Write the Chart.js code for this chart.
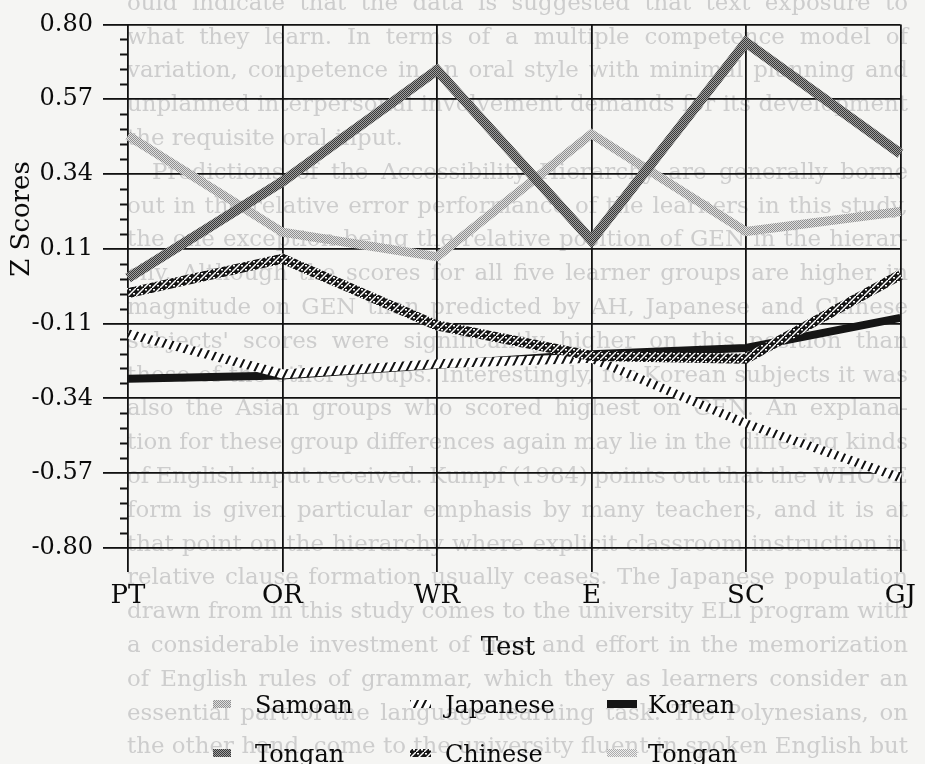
<!DOCTYPE html>
<html>
<head>
<meta charset="utf-8">
<script src="https://cdn.jsdelivr.net/npm/chart.js@4.4.0/dist/chart.umd.min.js"></script>
<style>
  html, body { margin: 0; padding: 0; background: #f5f5f3; }
  #wrap { width: 925px; height: 764px; }
</style>
</head>
<body>
<div id="wrap"><canvas id="zscores" width="925" height="764"></canvas></div>
<script>
// DATA
const tests = ["PT", "OR", "WR", "E", "SC", "GJ"];
const samoan = [0.46, 0.165, 0.09, 0.465, 0.167, 0.228];
const tongan = [0.025, 0.32, 0.66, 0.14, 0.745, 0.405];
const chinese = [-0.021, 0.084, -0.12, -0.213, -0.222, 0.035];
const japanese = [-0.146, -0.268, -0.237, -0.22, -0.42, -0.585];
const korean = [-0.283, -0.273, -0.24, -0.208, -0.189, -0.097];
const yTickLabels = ["0.80", "0.57", "0.34", "0.11", "-0.11", "-0.34", "-0.57", "-0.80"];
const legendLabels = ["Samoan", "Japanese", "Korean", "Tongan", "Chinese", "Tongan"];

// page text showing through behind the figure
const pageLines = [
  { t: "ould indicate that the data is suggested that text exposure to" },
  { t: "what they learn. In terms of a multiple competence model of" },
  { t: "variation, competence in an oral style with minimal planning and" },
  { t: "unplanned interpersonal involvement demands for its development" },
  { t: "the requisite oral input.", last: true },
  { t: "Predictions of the Accessibility Hierarchy are generally borne", indent: true },
  { t: "out in the relative error performance of the learners in this study," },
  { t: "the one exception being the relative position of GEN in the hierar-" },
  { t: "chy. Although the scores for all five learner groups are higher in" },
  { t: "magnitude on GEN than predicted by AH, Japanese and Chinese" },
  { t: "subjects' scores were significantly higher on this position than" },
  { t: "those of the other groups. Interestingly, for Korean subjects it was" },
  { t: "also the Asian groups who scored highest on GEN. An explana-" },
  { t: "tion for these group differences again may lie in the differing kinds" },
  { t: "of English input received. Kumpf (1984) points out that the WHOSE" },
  { t: "form is given particular emphasis by many teachers, and it is at" },
  { t: "that point on the hierarchy where explicit classroom instruction in" },
  { t: "relative clause formation usually ceases. The Japanese population" },
  { t: "drawn from in this study comes to the university ELI program with" },
  { t: "a considerable investment of time and effort in the memorization" },
  { t: "of English rules of grammar, which they as learners consider an" },
  { t: "essential part of the language learning task. The Polynesians, on" },
  { t: "the other hand, come to the university fluent in spoken English but" },
];

Chart.defaults.font.family = "'DejaVu Serif', serif";
Chart.defaults.color = "#0a0a0a";

const canvas = document.getElementById("zscores");
const ctx = canvas.getContext("2d");

function makePattern(w, h, paint) {
  const tile = document.createElement("canvas");
  tile.width = w;
  tile.height = h;
  paint(tile.getContext("2d"), w, h);
  return ctx.createPattern(tile, "repeat");
}

function checker(dark, light) {
  return makePattern(2, 2, (g) => {
    g.fillStyle = light;
    g.fillRect(0, 0, 2, 2);
    g.fillStyle = dark;
    g.fillRect(0, 0, 1, 1);
    g.fillRect(1, 1, 1, 1);
  });
}

const tonganPat = checker("#383838", "#a0a0a0");
const samoanPat = checker("#909090", "#dedede");
const tongan2Pat = checker("#acacac", "#eeeeee");

const japanesePat = makePattern(8, 16, (g, w, h) => {
  g.fillStyle = "#fff";
  g.fillRect(0, 0, w, h);
  g.strokeStyle = "#111";
  g.lineWidth = 2.1;
  g.beginPath();
  g.moveTo(-2, h + 4); g.lineTo(w + 2, -4);
  g.moveTo(-2 - w, h + 4); g.lineTo(2, -4);
  g.moveTo(w - 2, h + 4); g.lineTo(2 * w + 2, -4);
  g.stroke();
});

const chinesePat = makePattern(8, 8, (g, w, h) => {
  g.fillStyle = "#151515";
  g.fillRect(0, 0, w, h);
  g.strokeStyle = "#fff";
  g.lineWidth = 1.4;
  g.beginPath();
  g.moveTo(0, h); g.lineTo(w, 0);
  g.stroke();
  g.fillStyle = "#fff";
  g.fillRect(1, 1, 2, 1.5);
  g.fillRect(5, 5, 2, 1.5);
});

const legendStyles = [samoanPat, japanesePat, "#151515", tonganPat, chinesePat, tongan2Pat];

const extras = {
  id: "extras",
  beforeDraw(chart) {
    const c = chart.ctx;
    c.save();
    c.fillStyle = "#f5f5f3";
    c.fillRect(0, 0, chart.width, chart.height);
    c.font = "22px 'DejaVu Serif'";
    c.fillStyle = "#cdcdcd";
    c.textBaseline = "middle";
    const left = 127, right = 908;
    const sx = 1.04;
    pageLines.forEach((ln, i) => {
      const y = 4 + i * 33.8;
      const x0 = ln.indent ? 152 : left;
      c.save();
      c.translate(x0, y);
      c.scale(sx, 1);
      if (ln.last) {
        c.fillText(ln.t, 0, 0);
        c.restore();
        return;
      }
      const words = ln.t.split(" ");
      const widths = words.map((w) => c.measureText(w).width);
      const sum = widths.reduce((a, b) => a + b, 0);
      let gap = ((right - x0) / sx - sum) / (words.length - 1);
      if (gap < 5) {
        c.scale(((right - x0) / sx) / (sum + 5 * (words.length - 1)), 1);
        gap = 5;
      }
      let x = 0;
      words.forEach((w, k) => {
        c.fillText(w, x, 0);
        x += widths[k] + gap;
      });
      c.restore();
    });
    c.restore();
  },
  afterDraw(chart) {
    const c = chart.ctx;
    const ys = chart.scales.y;
    const area = chart.chartArea;
    c.save();
    // minor ticks on the y axis
    c.strokeStyle = "#111";
    c.lineWidth = 1.8;
    c.beginPath();
    for (let i = 0; i < ys.ticks.length - 1; i++) {
      const a = ys.ticks[i].value, b = ys.ticks[i + 1].value;
      for (let j = 1; j < 5; j++) {
        const y = Math.round(ys.getPixelForValue(a + (b - a) * j / 5)) + 0.5;
        c.moveTo(area.left - 8, y);
        c.lineTo(area.left, y);
      }
    }
    c.stroke();

    // axis titles
    c.fillStyle = "#0a0a0a";
    c.font = "26px 'DejaVu Serif'";
    c.textAlign = "center";
    c.textBaseline = "middle";
    c.fillText("Test", 508, 648);
    c.translate(22, 219);
    c.rotate(-Math.PI / 2);
    c.fillText("Z Scores", 0, 0);
    c.restore();

    // legend
    c.save();
    const symX = [213, 410, 607], symW = [18, 21, 30], textX = [255, 445, 648];
    const baseY = [713, 762];
    c.font = "24px 'DejaVu Serif'";
    c.textBaseline = "alphabetic";
    legendLabels.forEach((name, i) => {
      const row = Math.floor(i / 3), col = i % 3;
      c.fillStyle = legendStyles[i];
      c.fillRect(symX[col], baseY[row] - 13, symW[col], 8);
      c.fillStyle = "#0a0a0a";
      c.fillText(name, textX[col], baseY[row]);
    });
    c.restore();
  },
};

new Chart(ctx, {
  type: "line",
  data: {
    labels: tests,
    datasets: [
      { label: "Tongan", data: tongan, borderColor: tonganPat, borderWidth: 10 },
      { label: "Samoan", data: samoan, borderColor: samoanPat, borderWidth: 9 },
      { label: "Chinese", data: chinese, borderColor: chinesePat, borderWidth: 10 },
      { label: "Japanese", data: japanese, borderColor: japanesePat, borderWidth: 9 },
      { label: "Korean", data: korean, borderColor: "#151515", borderWidth: 8 },
    ],
  },
  options: {
    responsive: false,
    animation: false,
    layout: { padding: { top: 22, right: 19, left: 0, bottom: 0 } },
    plugins: { legend: { display: false }, tooltip: { enabled: false } },
    elements: {
      point: { radius: 0 },
      line: { tension: 0, borderJoinStyle: "miter", borderCapStyle: "butt", fill: false },
    },
    scales: {
      x: {
        offset: false,
        grid: { color: "#111", lineWidth: 1.8, tickLength: 24 },
        border: { display: false },
        ticks: { font: { size: 26 }, padding: 9, maxRotation: 0, autoSkip: false },
        afterFit: (s) => { s.height = 216; },
      },
      y: {
        min: -0.8,
        max: 0.8,
        afterBuildTicks: (s) => {
          const n = yTickLabels.length;
          s.ticks = yTickLabels.map((_, i) => ({ value: s.max - i * (s.max - s.min) / (n - 1) }));
        },
        grid: { color: "#111", lineWidth: 1.8, tickLength: 25 },
        border: { display: false },
        ticks: { font: { size: 24 }, padding: 10, callback: (v, i) => yTickLabels[i] },
        afterFit: (s) => { s.width = 128; },
      },
    },
  },
  plugins: [extras],
});
</script>
</body>
</html>
